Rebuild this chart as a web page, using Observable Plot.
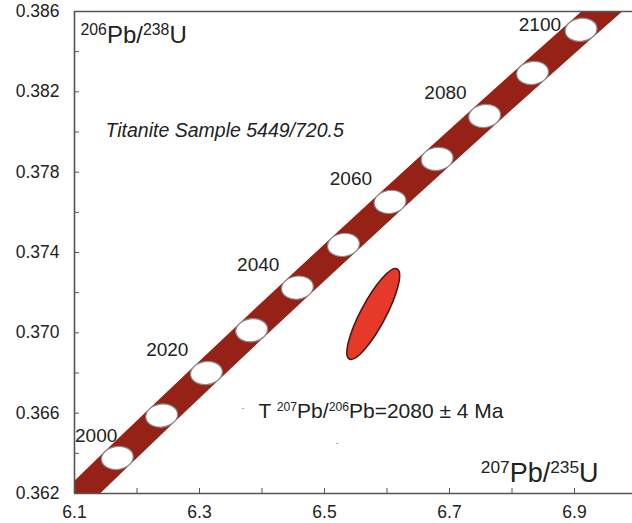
<!DOCTYPE html>
<html>
<head>
<meta charset="utf-8">
<script src="https://cdn.jsdelivr.net/npm/d3@7"></script>
<script src="https://cdn.jsdelivr.net/npm/@observablehq/plot@0.6"></script>
<style>
  html, body { margin: 0; padding: 0; background: #fff; }
  #chart svg { display: block; }
</style>
</head>
<body>
<div id="chart"></div>
<script>
// ---- data ----
const ages = [2000, 2010, 2020, 2030, 2040, 2050, 2060, 2070, 2080, 2090, 2100];
const pb207u235 = [6.1685, 6.2395, 6.3111, 6.3835, 6.4566, 6.5304, 6.6049, 6.6802, 6.7562, 6.8329, 6.9105];
const pb206u238 = [0.36377, 0.36588, 0.36800, 0.37013, 0.37225, 0.37438, 0.37652, 0.37866, 0.38080, 0.38294, 0.38509];
// concordia band extends past the frame on both ends
const bandX = [6.0287, 6.0983, 6.1685, 6.2395, 6.3111, 6.3835, 6.4566, 6.5304, 6.6049, 6.6802, 6.7562, 6.8329, 6.9105, 6.9888, 7.0678];
const bandY = [0.35955, 0.36165, 0.36377, 0.36588, 0.36800, 0.37013, 0.37225, 0.37438, 0.37652, 0.37866, 0.38080, 0.38294, 0.38509, 0.38724, 0.38939];
const labelAges = [2000, 2020, 2040, 2060, 2080, 2100];
const sampleX = [6.578];
const sampleY = [0.37094];
const xDomain = [6.1, 6.9928];
const yDomain = [0.362, 0.386];
const xTickLabels = [6.1, 6.3, 6.5, 6.7, 6.9];
const xMinorTicks = [6.1, 6.2, 6.3, 6.4, 6.5, 6.6, 6.7, 6.8, 6.9];
const yTickLabels = [0.362, 0.366, 0.370, 0.374, 0.378, 0.382, 0.386];
const yMinorTicks = [0.362, 0.364, 0.366, 0.368, 0.370, 0.372, 0.374, 0.376, 0.378, 0.380, 0.382, 0.384, 0.386];

const concordia = ages.map((a, i) => ({age: a, x: pb207u235[i], y: pb206u238[i]}));
const band = bandX.map((x, i) => ({x, y: bandY[i]}));
const labels = concordia.filter(d => labelAges.includes(d.age));
const sample = sampleX.map((x, i) => ({x, y: sampleY[i]}));

// rotated ellipse symbol (pixel sizes)
function ellipseSymbol(rx, ry, deg) {
  const a = deg * Math.PI / 180, c = Math.cos(a), s = Math.sin(a), k = 0.5523;
  const p = (x, y) => [x * c - y * s, x * s + y * c];
  return {
    draw(ctx) {
      ctx.moveTo(...p(rx, 0));
      ctx.bezierCurveTo(...p(rx, ry * k), ...p(rx * k, ry), ...p(0, ry));
      ctx.bezierCurveTo(...p(-rx * k, ry), ...p(-rx, ry * k), ...p(-rx, 0));
      ctx.bezierCurveTo(...p(-rx, -ry * k), ...p(-rx * k, -ry), ...p(0, -ry));
      ctx.bezierCurveTo(...p(rx * k, -ry), ...p(rx, -ry * k), ...p(rx, 0));
      ctx.closePath();
    }
  };
}

const font = "'Liberation Sans', Arial, sans-serif";

const plot = Plot.plot({
  width: 632,
  height: 523,
  marginLeft: 74,
  marginRight: 0,
  marginTop: 11,
  marginBottom: 30,
  style: {background: "#fff", fontFamily: font, color: "#222"},
  x: {domain: xDomain, label: null},
  y: {domain: yDomain, label: null},
  marks: [
    Plot.line(band, {x: "x", y: "y", stroke: "#962117", strokeWidth: 27, strokeLinecap: "butt", clip: true}),
    Plot.dot(concordia, {x: "x", y: "y", symbol: ellipseSymbol(16, 11.5, -8), fill: "#fff", stroke: "#8a8a8a", strokeWidth: 1.2}),
    Plot.dot(sample, {x: "x", y: "y", symbol: ellipseSymbol(51, 12.5, -62), fill: "#e5392a", stroke: "#4a1a12", strokeWidth: 1.6}),
    Plot.text(labels.filter(d => d.age === 2000), {x: "x", y: "y", text: d => String(d.age), textAnchor: "end", dx: 0, dy: -22, fontSize: 19, fill: "#222"}),
    Plot.text(labels.filter(d => d.age > 2000 && d.age < 2100), {x: "x", y: "y", text: d => String(d.age), textAnchor: "end", dx: -18, dy: -23, fontSize: 19, fill: "#222"}),
    Plot.text(labels.filter(d => d.age === 2100), {x: "x", y: "y", text: d => String(d.age), textAnchor: "end", dx: -20, dy: -5, fontSize: 19, fill: "#222"}),
    // annotations
    Plot.text(["^206Pb/^238U"], {frameAnchor: "top-left", text: d => d, textAnchor: "start", lineAnchor: "middle", dx: 6, dy: 24, fontSize: 24, fill: "#222"}),
    Plot.text(["^207Pb/^235U"], {frameAnchor: "bottom-right", text: d => d, textAnchor: "end", lineAnchor: "middle", dx: -34, dy: -20, fontSize: 27, fill: "#222"}),
    Plot.text(["Titanite Sample 5449/720.5"], {frameAnchor: "top-left", text: d => d, textAnchor: "start", lineAnchor: "middle", dx: 31, dy: 119, fontSize: 19.5, fontStyle: "italic", fill: "#222"}),
    Plot.text(["T ^207Pb/^206Pb=2080 \u00b1 4 Ma"], {frameAnchor: "top-left", text: d => d, textAnchor: "start", lineAnchor: "middle", dx: 184, dy: 400, fontSize: 21, fill: "#222"}),
    Plot.text(["-"], {frameAnchor: "top-left", text: d => d, lineAnchor: "middle", dx: 167, dy: 397, fontSize: 9, fill: "#888"}),
    Plot.text(["-"], {frameAnchor: "top-left", text: d => d, lineAnchor: "middle", dx: 261, dy: 432, fontSize: 9, fill: "#888"}),
    // axes
    Plot.axisY({ticks: yTickLabels, tickSize: 0, tickPadding: 15, tickFormat: d => d.toFixed(3), fontSize: 17.5, label: null}),
    Plot.axisY({ticks: yMinorTicks, tickSize: -5, tickFormat: () => "", stroke: "#555", label: null}),
    Plot.axisX({ticks: xTickLabels, tickSize: 0, tickPadding: 12, tickFormat: d => d.toFixed(1), fontSize: 17.5, label: null}),
    Plot.axisX({ticks: xMinorTicks, tickSize: -5, tickFormat: () => "", stroke: "#555", label: null}),
    Plot.ruleX([xDomain[0]], {stroke: "#555", strokeWidth: 1.6}),
    Plot.ruleY([yDomain[0], yDomain[1]], {stroke: "#555", strokeWidth: 1.6})
  ]
});

document.getElementById("chart").appendChild(plot);

// turn "^123" tokens into superscript tspans
const supRatio = {"^206Pb/^238U": 0.66, "^207Pb/^235U": 0.64};
d3.select(plot).selectAll("text").each(function () {
  const t = this.textContent;
  if (!t.includes("^")) return;
  const fs = parseFloat(getComputedStyle(this).fontSize) || 16;
  const supSize = fs * (supRatio[t] || 0.58), shift = fs * 0.34;
  const el = d3.select(this);
  el.text(null);
  let raised = false;
  t.split(/(\^\d+)/).filter(s => s.length).forEach(tok => {
    if (tok.startsWith("^")) {
      el.append("tspan").attr("font-size", supSize).attr("dy", raised ? 0 : -shift).text(tok.slice(1));
      raised = true;
    } else {
      el.append("tspan").attr("dy", raised ? shift : 0).text(tok);
      raised = false;
    }
  });
});
</script>
</body>
</html>
